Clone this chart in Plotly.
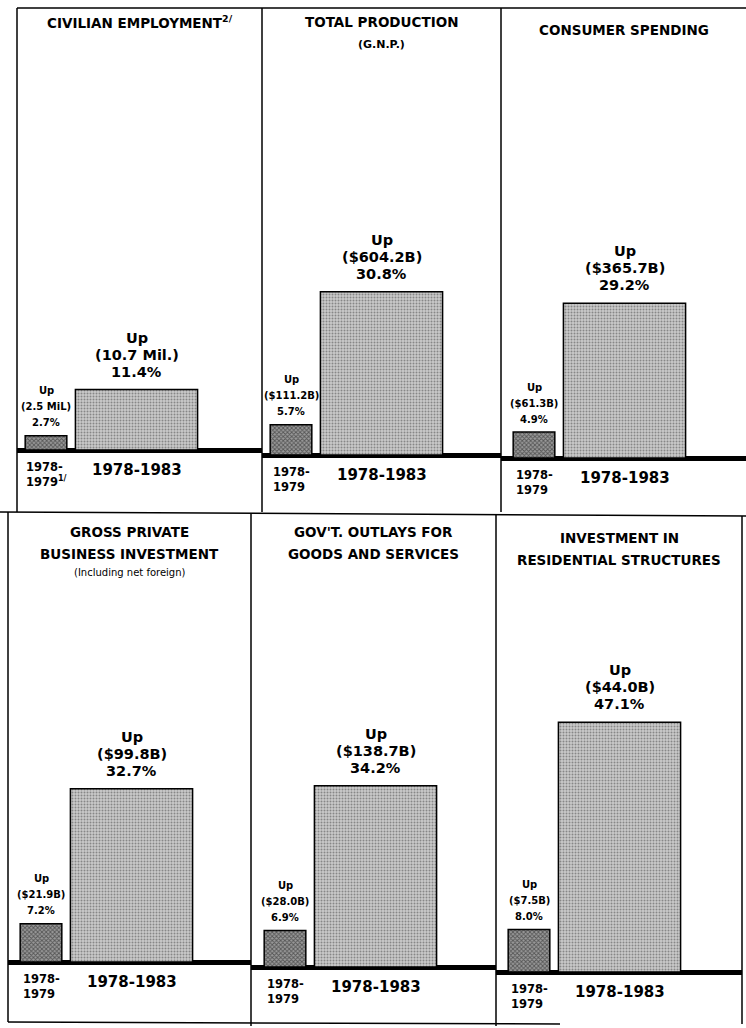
import plotly.graph_objects as go

W, H = 746, 1028

# ---------------- data ----------------
titles = [
    "CIVILIAN EMPLOYMENT<sup>2/</sup>",
    "TOTAL PRODUCTION",
    "CONSUMER SPENDING",
    "GROSS PRIVATE<br>BUSINESS INVESTMENT",
    "GOV'T. OUTLAYS FOR<br>GOODS AND SERVICES",
    "INVESTMENT IN<br>RESIDENTIAL STRUCTURES",
]
subtitles = ["", "(G.N.P.)", "", "", "", ""]
subnotes = ["", "", "", "(Including net foreign)", "", ""]
periods = ["1978-1979", "1978-1983"]
period_labels_small = ["1978-<br>1979<sup>1/</sup>", "1978-<br>1979", "1978-<br>1979",
                       "1978-<br>1979", "1978-<br>1979", "1978-<br>1979"]
period_label_big = "1978-1983"
pct_small = [2.7, 5.7, 4.9, 7.2, 6.9, 8.0]
pct_big = [11.4, 30.8, 29.2, 32.7, 34.2, 47.1]
amt_small = ["(2.5 MiL)", "($111.2B)", "($61.3B)", "($21.9B)", "($28.0B)", "($7.5B)"]
amt_big = ["(10.7 Mil.)", "($604.2B)", "($365.7B)", "($99.8B)", "($138.7B)", "($44.0B)"]

# ---------------- layout geometry (pixels) ----------------
# left, right, top, bottom, baseline, small-bar centre offset, title offset
panels = [
    (17, 262, 8, 512, 450, 29, 14),
    (262, 501, 8, 512, 455, 29, 14),
    (501, 746, 8, 512, 458, 33, 22),
    (8, 251, 512, 1022, 962, 33, 20),
    (251, 496, 512, 1022, 967, 34, 20),
    (496, 742, 512, 1022, 972, 33, 26),
]
PX_PER_PCT = 5.3
UNIT = 90.5  # px between category centres
FONT = "DejaVu Sans"


def xp(px):
    return px / W


def yp(py):
    return 1 - py / H


def f(size, weight="bold"):
    return dict(family=FONT, size=size, color="black", weight=weight)


fig = go.Figure()
annotations = []
shapes = []

for i in range(6):
    left, right, top, bottom, base, off, toff = panels[i]
    n = i + 1
    xa = "x" if n == 1 else f"x{n}"
    ya = "y" if n == 1 else f"y{n}"
    xkey = "xaxis" if n == 1 else f"xaxis{n}"
    ykey = "yaxis" if n == 1 else f"yaxis{n}"

    fig.add_trace(go.Bar(
        x=[periods[0]], y=[pct_small[i]], width=[0.46],
        xaxis=xa, yaxis=ya,
        marker=dict(color="#8a8a8a", line=dict(color="black", width=1.5),
                    pattern=dict(shape="x", fgcolor="#111", bgcolor="#9a9a9a",
                                 size=3, solidity=0.5)),
        showlegend=False, hoverinfo="skip",
    ))
    fig.add_trace(go.Bar(
        x=[periods[1]], y=[pct_big[i]], width=[1.35],
        xaxis=xa, yaxis=ya,
        marker=dict(color="#c4c4c4", line=dict(color="black", width=1.5),
                    pattern=dict(shape=".", fgcolor="#444", bgcolor="#cacaca",
                                 size=3, solidity=0.35)),
        showlegend=False, hoverinfo="skip",
    ))

    pw = right - left
    xr0 = -off / UNIT
    xr1 = (pw - off) / UNIT
    yr0 = -(bottom - base) / PX_PER_PCT
    yr1 = (base - top) / PX_PER_PCT

    fig.layout[xkey] = dict(domain=[xp(left), xp(right)], range=[xr0, xr1],
                            type="category", categoryarray=periods,
                            visible=False, fixedrange=True, anchor=ya)
    fig.layout[ykey] = dict(domain=[yp(bottom), yp(top)], range=[yr0, yr1],
                            showgrid=False, showticklabels=False, ticks="",
                            zeroline=True, zerolinecolor="black", zerolinewidth=5,
                            showline=False, fixedrange=True, anchor=xa)

    # value labels (one annotation per line for tight spacing)
    big_lines = ["Up", amt_big[i], f"{pct_big[i]:.1f}%"]
    for k, t in enumerate(big_lines):
        annotations.append(dict(
            x=periods[1], y=pct_big[i], xref=xa, yref=ya, yanchor="middle",
            xanchor="center", yshift=18 + 17 * (2 - k),
            text=t, showarrow=False, font=f(14.5)))
    small_lines = ["Up", amt_small[i], f"{pct_small[i]:.1f}%"]
    for k, t in enumerate(small_lines):
        annotations.append(dict(
            x=periods[0], y=pct_small[i], xref=xa, yref=ya, yanchor="middle",
            xanchor="center", yshift=13 + 16 * (2 - k),
            text=t, showarrow=False, font=f(10)))
    # period labels
    annotations.append(dict(
        x=periods[0], y=0, xref=xa, yref=ya, yanchor="top", yshift=-8, xshift=0,
        xanchor="center",
        text=period_labels_small[i], showarrow=False,
        font=f(11.5), align="left"))
    annotations.append(dict(
        x=periods[1], y=0, xref=xa, yref=ya, yanchor="middle", yshift=-20,
        xanchor="center",
        text=period_label_big, showarrow=False, font=f(15)))

    # titles
    cx = xp((left + right) / 2)
    tlines = titles[i].split("<br>")
    for k, t in enumerate(tlines):
        annotations.append(dict(
            x=cx, y=yp(top + toff + 22 * k), xref="paper", yref="paper",
            yanchor="middle", xanchor="center",
            text=t, showarrow=False, font=f(13.5)))
    if subtitles[i]:
        annotations.append(dict(
            x=cx, y=yp(top + toff + 23), xref="paper", yref="paper",
            yanchor="middle", xanchor="center",
            text=subtitles[i], showarrow=False, font=f(11)))
    if subnotes[i]:
        annotations.append(dict(
            x=cx, y=yp(top + toff + 40), xref="paper", yref="paper",
            yanchor="middle", xanchor="center",
            text=subnotes[i], showarrow=False, font=f(10, "normal")))

# panel borders
line = dict(color="black", width=1.5)
border_lines = [
    (17, 8, 746, 8),      # top
    (17, 8, 17, 512),     # top-left
    (262, 8, 262, 512),
    (501, 8, 501, 512),
    (0, 512, 746, 516),   # middle
    (8, 512, 8, 1022),
    (251, 514, 251, 1026),
    (496, 515, 496, 1026),
    (742, 516, 742, 1024),
    (8, 1022, 560, 1024),  # bottom
]
for x0, y0, x1, y1 in border_lines:
    shapes.append(dict(type="line", xref="paper", yref="paper",
                       x0=xp(x0), y0=yp(y0), x1=xp(x1), y1=yp(y1), line=line))

fig.update_layout(
    width=W, height=H, margin=dict(l=0, r=0, t=0, b=0),
    paper_bgcolor="white", plot_bgcolor="rgba(0,0,0,0)",
    annotations=annotations, shapes=shapes, barmode="overlay",
    font=dict(family=FONT, color="black"),
)

fig.write_html(
    "out.html",
    config={"displayModeBar": False},
    post_script="document.body.style.margin='0';document.body.style.overflow='hidden';",
)
